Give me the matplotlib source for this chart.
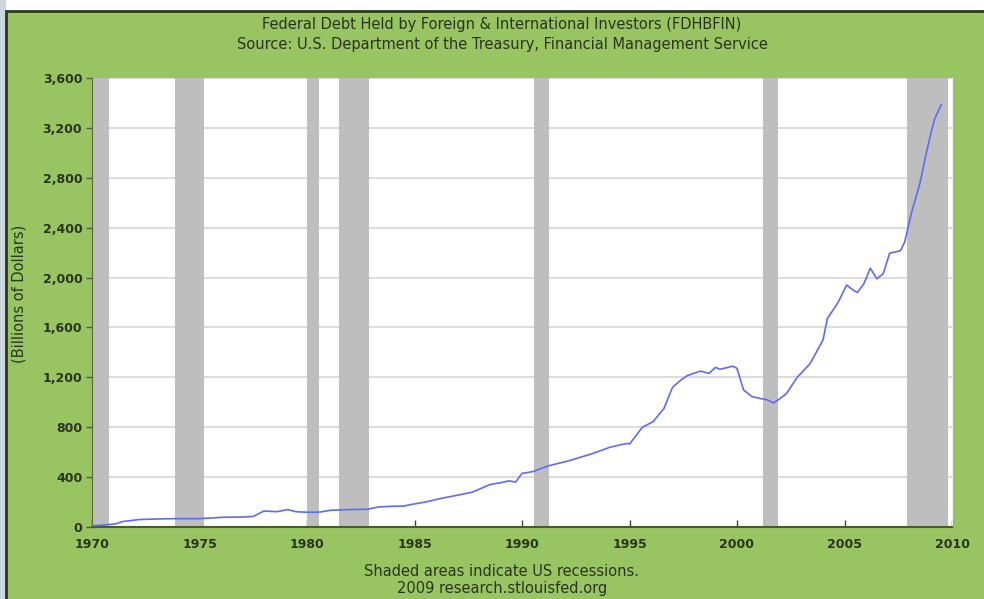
import matplotlib
matplotlib.use("Agg")
import matplotlib.pyplot as plt
from matplotlib.patches import Rectangle

# data (decimal year, billions of dollars)
years = [1970.0, 1970.5, 1971.1, 1971.4, 1972.2, 1973.0, 1973.8, 1975.0, 1976.1, 1977.0,
         1977.5, 1978.0, 1978.6, 1979.1, 1979.5, 1980.1, 1980.6, 1981.1, 1982.0, 1982.8,
         1983.3, 1983.9, 1984.5, 1984.9, 1985.5, 1986.2, 1987.0, 1987.7, 1988.5, 1989.0,
         1989.4, 1989.7, 1990.0, 1990.5, 1991.2, 1992.2, 1993.3, 1994.1, 1994.6, 1994.9,
         1995.0, 1995.6, 1996.1, 1996.6, 1997.0, 1997.4, 1997.7, 1998.3, 1998.7, 1999.0,
         1999.2, 1999.4, 1999.8, 2000.0, 2000.3, 2000.7, 2001.1, 2001.4, 2001.7, 2002.0,
         2002.3, 2002.8, 2003.4, 2004.0, 2004.2, 2004.7, 2005.1, 2005.4, 2005.6, 2005.9,
         2006.2, 2006.5, 2006.8, 2007.1, 2007.35, 2007.6, 2007.8, 2008.1, 2008.5, 2008.8,
         2009.05, 2009.2, 2009.5]
debt = [10, 15, 25, 43, 60, 64, 67, 67, 78, 80,
        85, 128, 123, 140, 122, 118, 120, 134, 140, 142,
        160, 166, 168, 182, 200, 228, 255, 280, 340, 355,
        370, 360, 430, 444, 489, 532, 590, 640, 660, 670,
        665, 800, 845, 950, 1120, 1180, 1215, 1250, 1232, 1280,
        1265, 1272, 1290, 1272, 1100, 1045, 1030, 1020, 995, 1030,
        1070, 1200, 1310, 1500, 1670, 1800, 1940, 1900, 1880, 1950,
        2075, 1990, 2030, 2195, 2205, 2215, 2285, 2510, 2750, 2995,
        3180, 3275, 3385]

recessions = [(1969.9, 1970.8), (1973.85, 1975.2), (1980.0, 1980.55), (1981.5, 1982.9),
              (1990.55, 1991.25), (2001.2, 2001.9), (2007.9, 2009.8)]

yticks = [0, 400, 800, 1200, 1600, 2000, 2400, 2800, 3200, 3600]
xticks = [1970, 1975, 1980, 1985, 1990, 1995, 2000, 2005, 2010]

green = "#98c561"
text_color = "#2b3320"

fig = plt.figure(figsize=(9.84, 5.99), dpi=100)
fig.patch.set_facecolor("white")

# screenshot edges: light strip on the left, white strip on top, green panel with dark border
fig.patches.append(Rectangle((0, 0), 6 / 984, 1, transform=fig.transFigure,
                             facecolor="#cdd5dd", edgecolor="none", zorder=-3))
fig.patches.append(Rectangle((6 / 984, -0.01), 1, 1 - 11 / 599 + 0.01, transform=fig.transFigure,
                             facecolor=green, edgecolor="#2a3a1a", linewidth=2, zorder=-2))

ax = fig.add_axes([92 / 984, (599 - 527) / 599, 860 / 984, 449 / 599])
ax.set_facecolor("white")

for start, end in recessions:
    ax.axvspan(max(start, 1970), end, color="#bebebe", linewidth=0, zorder=1)

ax.plot(years, debt, color="#5b6bff", linewidth=1.2, zorder=3)

ax.set_xlim(1970, 2010)
ax.set_ylim(0, 3600)
ax.set_yticks(yticks)
ax.set_yticklabels([f"{v:,}" for v in yticks])
ax.set_xticks(xticks)
ax.grid(axis="y", color="#dcdcdc", linewidth=1.5, zorder=0)
ax.set_axisbelow(True)

ax.tick_params(axis="y", direction="out", length=4, width=1, color="#555555",
               labelsize=9, labelcolor=text_color, pad=3)
ax.tick_params(axis="x", direction="in", length=5, width=1, color="#444444",
               labelsize=9, labelcolor=text_color, pad=8)
for lab in ax.get_xticklabels() + ax.get_yticklabels():
    lab.set_fontweight("bold")

ax.spines["top"].set_visible(False)
ax.spines["right"].set_color("#f0f0f0")
ax.spines["left"].set_color("#5a6e3a")
ax.spines["bottom"].set_color("#4a5a30")
ax.spines["bottom"].set_linewidth(1.5)

ax.set_ylabel("(Billions of Dollars)", fontsize=10.5, color=text_color)
ax.yaxis.set_label_coords(-65 / 860, 0.52)

fig.text(502 / 984, 1 - 24 / 599, "Federal Debt Held by Foreign & International Investors (FDHBFIN)",
         ha="center", va="center", fontsize=10.5, color=text_color)
fig.text(502 / 984, 1 - 44 / 599, "Source: U.S. Department of the Treasury, Financial Management Service",
         ha="center", va="center", fontsize=10.5, color=text_color)
fig.text(502 / 984, 1 - 572 / 599, "Shaded areas indicate US recessions.",
         ha="center", va="center", fontsize=10.5, color=text_color)
fig.text(502 / 984, 1 - 589 / 599, "2009 research.stlouisfed.org",
         ha="center", va="center", fontsize=10.5, color=text_color)

plt.savefig("out.png", dpi=100, facecolor=fig.get_facecolor())
plt.close()
